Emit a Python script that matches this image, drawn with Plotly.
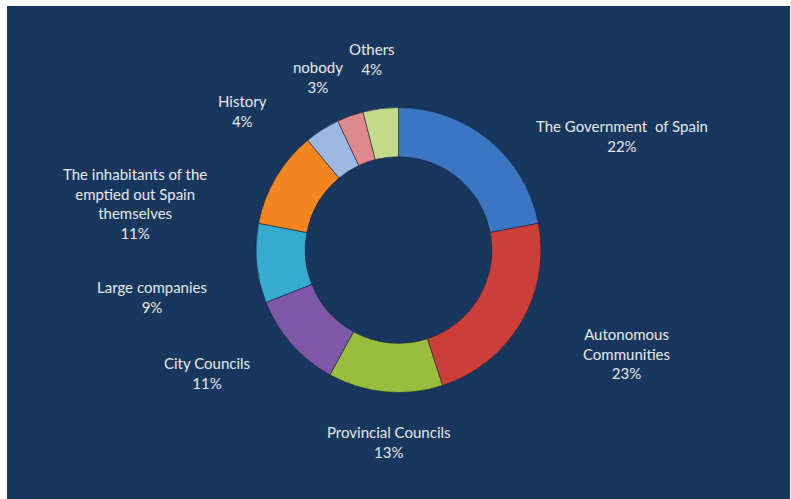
import plotly.graph_objects as go

categories = [
    "The Government  of Spain",
    "Autonomous<br>Communities",
    "Provincial Councils",
    "City Councils",
    "Large companies",
    "The inhabitants of the<br>emptied out Spain<br>themselves",
    "History",
    "nobody",
    "Others",
]
values = [22, 23, 13, 11, 9, 11, 4, 3, 4]

colors = ["#3B76C4", "#CB3F38", "#99BD3C", "#7F57A8", "#35ABCF",
          "#F5861F", "#9DB8E2", "#DF8A8A", "#C4D98C"]

# label centres in page pixels (hand placed, as in the original chart)
label_px = [(622, 136), (626, 354), (389, 442), (207, 373), (152, 297),
            (135, 204), (242, 111), (318, 77), (372, 59)]

W, H = 791, 499
ML, MR, MT, MB = 7, 1, 6, 0
PW, PH = W - ML - MR, H - MT - MB

cx, cy, r = 398.5, 250, 142.5


def to_paper(px, py):
    return (px - ML) / PW, (H - MB - py) / PH


total = sum(values)
fig = go.Figure()
fig.add_trace(go.Pie(
    labels=categories,
    values=values,
    hole=0.655,
    sort=False,
    direction="clockwise",
    rotation=0,
    marker=dict(colors=colors, line=dict(color="rgba(20,30,50,0.55)", width=1)),
    textinfo="none",
    showlegend=False,
    domain=dict(x=[(cx - r - ML) / PW, (cx + r - ML) / PW],
                y=[(H - MB - cy - r) / PH, (H - MB - cy + r) / PH]),
))

for lab, v, (px, py) in zip(categories, values, label_px):
    x, y = to_paper(px, py)
    pct = round(100 * v / total)
    fig.add_annotation(
        x=x, y=y, xref="paper", yref="paper",
        text=f"{lab}<br>{pct}%", showarrow=False,
        xanchor="center", yanchor="middle", align="center",
        font=dict(family="Lato", size=15, color="#E8E8E8"),
    )

fig.add_shape(type="rect", xref="paper", yref="paper", x0=0, x1=1, y0=0, y1=1,
              fillcolor="#17375E", line=dict(width=0), layer="below")

fig.update_layout(
    width=W, height=H,
    margin=dict(l=ML, r=MR, t=MT, b=MB),
    paper_bgcolor="white",
    plot_bgcolor="#17375E",
)

fig.write_html("out.html",
               config={"displayModeBar": False},
               post_script="document.body.style.margin='0';document.body.style.overflow='hidden';")
